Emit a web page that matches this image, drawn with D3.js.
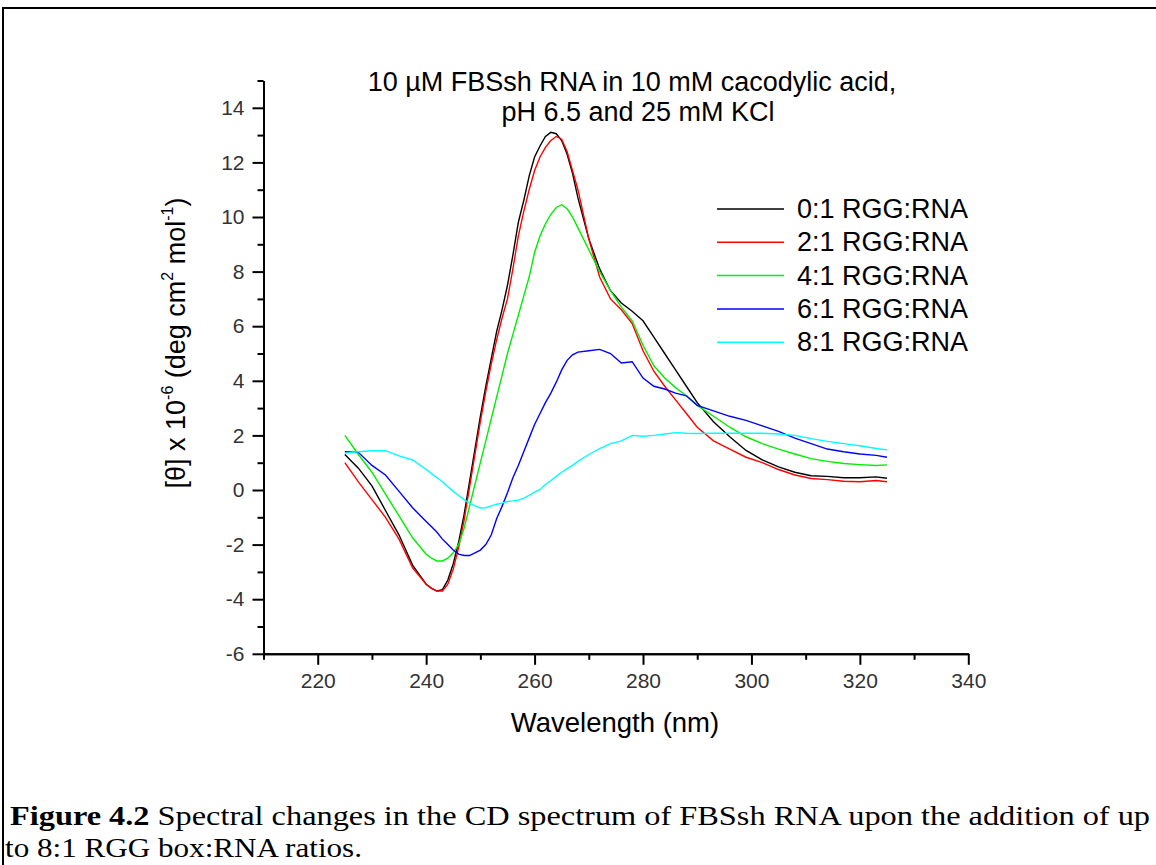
<!DOCTYPE html>
<html>
<head>
<meta charset="utf-8">
<script src="https://cdn.jsdelivr.net/npm/d3@7"></script>
<style>
  body { margin: 0; background: #fff; }
  svg { display: block; overflow: hidden; }
</style>
</head>
<body>
<script>
// wavelength grid (nm) shared by all spectra
const wavelength = [225, 227.5, 230, 232.5, 235, 237.5, 240, 241, 242, 243, 244, 245, 246, 247, 248, 249,
  250, 251, 252, 253, 254, 255, 256, 257, 258, 259, 260, 261, 262, 263, 264, 265, 266, 267, 268,
  270, 272, 274, 276, 278, 280, 282, 284, 286, 288, 290, 293, 296, 299, 302, 305, 308, 311, 314,
  317, 320, 323, 325];

// [theta] x 10^-6 for each RGG:RNA ratio
const ratio0 = [1.3, 0.8, 0.15, -0.75, -1.65, -2.75, -3.45, -3.6, -3.7, -3.65, -3.3, -2.7, -1.9, -0.9, 0.3, 1.5,
  2.7, 3.8, 4.8, 5.8, 6.6, 7.5, 8.6, 9.8, 10.6, 11.5, 12.2, 12.6, 12.95, 13.1, 13.05, 12.8, 12.3, 11.6, 10.7,
  9.2, 8.1, 7.3, 6.85, 6.55, 6.2, 5.6, 5.0, 4.4, 3.8, 3.2, 2.5, 1.95, 1.45, 1.1, 0.85, 0.65, 0.52, 0.5,
  0.45, 0.45, 0.48, 0.43];
const ratio2 = [1.0, 0.3, -0.35, -1.0, -1.8, -2.85, -3.45, -3.6, -3.7, -3.7, -3.45, -2.9, -2.1, -1.1, 0.1, 1.3,
  2.5, 3.6, 4.6, 5.5, 6.3, 7.0, 8.1, 9.3, 10.2, 11.0, 11.7, 12.2, 12.55, 12.8, 12.95, 12.85, 12.4, 11.7, 11.0,
  9.2, 7.8, 7.0, 6.6, 6.1, 5.1, 4.35, 3.8, 3.3, 2.8, 2.3, 1.8, 1.5, 1.2, 1.0, 0.75, 0.55, 0.42, 0.38,
  0.32, 0.3, 0.35, 0.3];
const ratio4 = [2.0, 1.3, 0.65, -0.15, -0.95, -1.75, -2.35, -2.5, -2.6, -2.6, -2.5, -2.3, -2.0, -1.4, -0.6, 0.2,
  1.0, 1.8, 2.6, 3.4, 4.2, 5.0, 5.7, 6.4, 7.1, 7.8, 8.7, 9.3, 9.75, 10.1, 10.35, 10.45, 10.3, 10.0, 9.6,
  8.8, 8.0, 7.3, 6.7, 6.2, 5.3, 4.55, 4.1, 3.75, 3.45, 3.1, 2.7, 2.3, 1.95, 1.7, 1.5, 1.32, 1.15, 1.05,
  0.97, 0.93, 0.9, 0.92];
const ratio6 = [1.4, 1.38, 0.9, 0.55, -0.05, -0.65, -1.15, -1.35, -1.55, -1.8, -2.0, -2.2, -2.35, -2.4, -2.4, -2.3,
  -2.2, -2.0, -1.65, -1.05, -0.6, -0.1, 0.45, 0.9, 1.4, 1.9, 2.4, 2.8, 3.2, 3.55, 3.95, 4.4, 4.75, 4.95, 5.05,
  5.1, 5.15, 5.0, 4.65, 4.7, 4.1, 3.8, 3.7, 3.55, 3.45, 3.1, 2.9, 2.7, 2.55, 2.35, 2.15, 1.9, 1.7, 1.5,
  1.4, 1.32, 1.27, 1.2];
const ratio8 = [1.35, 1.4, 1.44, 1.44, 1.25, 1.1, 0.75, 0.6, 0.45, 0.3, 0.12, -0.05, -0.2, -0.35, -0.48, -0.58,
  -0.66, -0.65, -0.58, -0.52, -0.48, -0.42, -0.4, -0.37, -0.3, -0.2, -0.08, 0.02, 0.2, 0.35, 0.5, 0.65, 0.78, 0.9, 1.05,
  1.3, 1.52, 1.7, 1.8, 2.0, 1.97, 2.0, 2.05, 2.1, 2.08, 2.07, 2.08, 2.08, 2.08, 2.08, 2.05, 2.0, 1.88, 1.78,
  1.7, 1.62, 1.52, 1.47];

const seriesNames = ["0:1 RGG:RNA", "2:1 RGG:RNA", "4:1 RGG:RNA", "6:1 RGG:RNA", "8:1 RGG:RNA"];
const seriesValues = [ratio0, ratio2, ratio4, ratio6, ratio8];
const seriesColors = ["#000000", "#ff0000", "#00ee00", "#0000ff", "#00ffff"];

const xMajorTicks = [220, 240, 260, 280, 300, 320, 340];
const xMinorTicks = [210, 230, 250, 270, 290, 310, 330];
const yMajorTicks = [-6, -4, -2, 0, 2, 4, 6, 8, 10, 12, 14];
const yMinorTicks = [-5, -3, -1, 1, 3, 5, 7, 9, 11, 13, 15];

const w = 1156;
const h = 865;

const svg = d3
  .select("body")
  .append("svg")
  .attr("width", w)
  .attr("height", h);

// page frame
svg.append("line")
  .attr("x1", 3).attr("x2", w).attr("y1", 8).attr("y2", 8)
  .attr("stroke", "#000").attr("stroke-width", 2);
svg.append("line")
  .attr("x1", 3).attr("x2", 3).attr("y1", 7).attr("y2", h)
  .attr("stroke", "#000").attr("stroke-width", 2);

const x = d3.scaleLinear().domain([210, 340]).range([263.5, 968.3]);
const y = d3.scaleLinear().domain([-6, 15]).range([653.8, 80.5]);

const sans = "Arial, 'Liberation Sans', sans-serif";

// axes
const styleAxis = (g) => {
  g.select(".domain").attr("stroke", "#000").attr("stroke-width", 2);
  g.selectAll(".tick line").attr("stroke", "#000").attr("stroke-width", 2);
  g.selectAll(".tick text")
    .attr("fill", "#333")
    .attr("font-family", sans)
    .attr("font-size", 21);
};

svg.append("g")
  .attr("transform", `translate(0,${y(-6)})`)
  .call(d3.axisBottom(x).tickValues(xMinorTicks).tickSize(6).tickSizeOuter(0).tickFormat(""))
  .call(styleAxis);

svg.append("g")
  .attr("transform", `translate(0,${y(-6)})`)
  .call(d3.axisBottom(x).tickValues(xMajorTicks).tickSize(11).tickSizeOuter(0).tickPadding(8).tickFormat((d) => d))
  .call(styleAxis);

svg.append("g")
  .attr("transform", `translate(${x(210)},0)`)
  .call(d3.axisLeft(y).tickValues(yMinorTicks).tickSize(6).tickSizeOuter(0).tickFormat(""))
  .call(styleAxis);

svg.append("g")
  .attr("transform", `translate(${x(210)},0)`)
  .call(d3.axisLeft(y).tickValues(yMajorTicks).tickSize(11).tickSizeOuter(0).tickPadding(8).tickFormat((d) => d))
  .call(styleAxis);

// spectra
const line = d3.line()
  .x((d) => x(d[0]))
  .y((d) => y(d[1]));

svg.append("g")
  .selectAll("path")
  .data(seriesValues)
  .enter()
  .append("path")
  .attr("d", (vals) => line(wavelength.map((wl, i) => [wl, vals[i]])))
  .attr("fill", "none")
  .attr("stroke", (d, i) => seriesColors[i])
  .attr("stroke-width", 1.4);

// title
svg.append("text")
  .text("10 \u00b5M FBSsh RNA in 10 mM cacodylic acid,")
  .attr("x", 632)
  .attr("y", 91)
  .attr("text-anchor", "middle")
  .attr("font-family", sans)
  .attr("font-size", 27);

svg.append("text")
  .text("pH 6.5 and 25 mM KCl")
  .attr("x", 638)
  .attr("y", 121)
  .attr("text-anchor", "middle")
  .attr("font-family", sans)
  .attr("font-size", 27);

// legend
const legend = svg.append("g")
  .selectAll("g")
  .data(seriesNames)
  .enter()
  .append("g")
  .attr("transform", (d, i) => `translate(717,${209 + i * 33.3})`);

legend.append("line")
  .attr("x1", 0).attr("x2", 67)
  .attr("stroke", (d, i) => seriesColors[i])
  .attr("stroke-width", 1.5);

legend.append("text")
  .text((d) => d)
  .attr("x", 80)
  .attr("y", 9)
  .attr("font-family", sans)
  .attr("font-size", 27);

// axis titles
svg.append("text")
  .text("Wavelength (nm)")
  .attr("x", 615)
  .attr("y", 732)
  .attr("text-anchor", "middle")
  .attr("font-family", sans)
  .attr("font-size", 27.5);

const yTitle = svg.append("text")
  .attr("transform", "translate(185,343) rotate(-90)")
  .attr("text-anchor", "middle")
  .attr("font-family", sans)
  .attr("font-size", 27);
yTitle.append("tspan").text("[\u03b8] x 10");
yTitle.append("tspan").text("-6").attr("font-size", 16).attr("dy", -12);
yTitle.append("tspan").text(" (deg cm").attr("dy", 12);
yTitle.append("tspan").text("2").attr("font-size", 16).attr("dy", -12);
yTitle.append("tspan").text(" mol").attr("dy", 12);
yTitle.append("tspan").text("-1").attr("font-size", 16).attr("dy", -12);
yTitle.append("tspan").text(")").attr("dy", 12);

// caption
const serif = "'Times New Roman', 'Liberation Serif', serif";
const cap1 = svg.append("text")
  .attr("x", 10)
  .attr("y", 825)
  .attr("font-family", serif)
  .attr("font-size", 28)
  .attr("textLength", 1140)
  .attr("lengthAdjust", "spacingAndGlyphs");
cap1.append("tspan").text("Figure 4.2").attr("font-weight", "bold");
cap1.append("tspan").text(" Spectral changes in the CD spectrum of FBSsh RNA upon the addition of up");

svg.append("text")
  .text("to 8:1 RGG box:RNA ratios.")
  .attr("x", 5)
  .attr("y", 857)
  .attr("font-family", serif)
  .attr("font-size", 28)
  .attr("textLength", 357)
  .attr("lengthAdjust", "spacingAndGlyphs");
</script>
</body>
</html>
